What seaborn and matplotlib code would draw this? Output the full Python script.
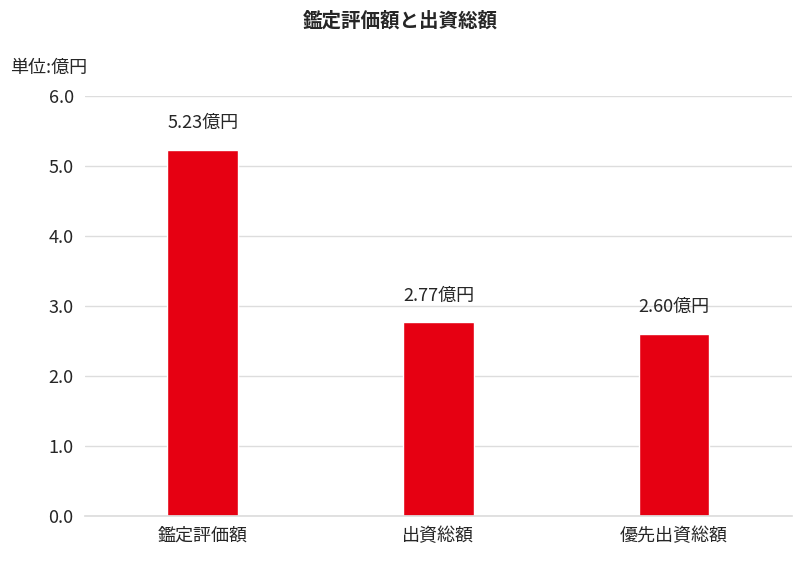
import matplotlib
matplotlib.use("Agg")
import matplotlib.pyplot as plt
import seaborn as sns
import pandas as pd

categories = ["鑑定評価額", "出資総額", "優先出資総額"]
values = [5.23, 2.77, 2.60]
labels = ["5.23億円", "2.77億円", "2.60億円"]
yticks = [0, 1, 2, 3, 4, 5, 6]

sns.set_theme(style="white")
plt.rcParams['font.family'] = ['Noto Sans CJK JP', 'DejaVu Sans']

fig = plt.figure(figsize=(8, 5.74), dpi=100)
ax = fig.add_axes([0.106, 0.101, 0.884, 0.732])
df = pd.DataFrame({"cat": categories, "val": values})
sns.barplot(data=df, x="cat", y="val", color="#E60012", saturation=1, width=0.3, ax=ax)
ax.set_ylim(0, 6)
ax.set_yticks(yticks)
ax.set_yticklabels([f"{t:.1f}" for t in yticks], fontsize=13)
ax.tick_params(axis='x', labelsize=13, length=0, pad=8)
ax.tick_params(axis='y', length=0, pad=8)
ax.yaxis.grid(True, color="#dddddd", linewidth=1)
ax.set_axisbelow(True)
for s in ["top", "right", "left"]:
    ax.spines[s].set_visible(False)
ax.spines["bottom"].set_color("#dddddd")
ax.set_xlabel("")
ax.set_ylabel("")
for i, (v, l) in enumerate(zip(values, labels)):
    ax.text(i, v + 0.25, l, ha="center", va="bottom", fontsize=13)
fig.text(0.5, 0.963, "鑑定評価額と出資総額", ha="center", va="center", fontsize=14, fontweight="bold")
fig.text(0.012, 0.882, "単位:億円", ha="left", va="center", fontsize=13)
fig.savefig("out.png", dpi=100)
